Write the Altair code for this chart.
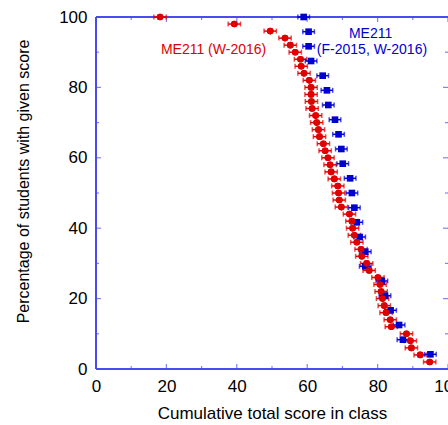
import altair as alt
import pandas as pd

# Cumulative score distributions for ME211
red_label = "ME211 (W-2016)"
red_score = [18.2, 39.3, 49.5, 53.7, 55.2, 56.6, 58.1, 58.3, 59.1, 60.6,
             61.1, 61.1, 61.2, 61.4, 62.4, 62.7, 63.2, 63.5, 64.6, 65.1,
             65.9, 66.5, 66.8, 67.7, 68.7, 68.9, 69.1, 69.7, 72.0, 72.7,
             72.9, 73.4, 74.1, 75.3, 75.5, 76.9, 77.6, 80.1, 80.7, 81.0,
             81.4, 81.9, 82.4, 83.6, 83.9, 88.2, 89.3, 89.6, 92.1, 94.8]
red_pct = [100, 98, 96, 94, 92, 90, 88, 86, 84, 82,
           80, 78, 76, 74, 72, 70, 68, 66, 64, 62,
           60, 58, 56, 54, 52, 50, 48, 46, 44, 42,
           40, 38, 36, 34, 32, 30, 28, 26, 24, 22,
           20, 18, 16, 14, 12, 10, 8, 6, 4, 2]
red_err = 1.75

blue_label_1 = "ME211"
blue_label_2 = "(F-2015, W-2016)"
blue_score = [59.0, 60.4, 60.4, 61.1, 64.4, 65.6, 66.0, 67.9, 68.9, 69.7,
              70.1, 72.2, 72.7, 73.4, 74.1, 74.9, 76.5, 76.5, 81.2, 82.1,
              83.7, 86.1, 87.2, 95.0]
blue_pct = [100, 95.83, 91.67, 87.5, 83.33, 79.17, 75, 70.83, 66.67, 62.5,
            58.33, 54.17, 50, 45.83, 41.67, 37.5, 33.33, 29.17, 25, 20.83,
            16.67, 12.5, 8.33, 4.17]
blue_err = 1.65

major_ticks = [0, 20, 40, 60, 80, 100]
minor_ticks = [10, 30, 50, 70, 90]

RED = "#e00000"
BLUE = "#0000d0"
FRAME = "#4b4bf0"
FONT = "Liberation Sans"
W, H = 352, 352

red = pd.DataFrame({"score": red_score, "pct": red_pct})
red["lo"] = red["score"] - red_err
red["hi"] = red["score"] + red_err
blue = pd.DataFrame({"score": blue_score, "pct": blue_pct})
blue["lo"] = blue["score"] - blue_err
blue["hi"] = blue["score"] + blue_err

xs = alt.Scale(domain=[0, 100], nice=False)
ys = alt.Scale(domain=[0, 100], nice=False)

x_axis = alt.Axis(values=major_ticks, domain=False, ticks=False, tickSize=0, grid=False,
                  labelFontSize=17, labelFont=FONT, labelColor="black", labelPadding=9,
                  labelFlush=False, labelOverlap=False,
                  title="Cumulative total score in class", titleFont=FONT,
                  titleFontSize=17, titleFontWeight="normal", titleColor="black",
                  titleY=44, titleBaseline="middle")
y_axis = alt.Axis(values=major_ticks, domain=False, ticks=False, tickSize=0, grid=False,
                  labelFontSize=17, labelFont=FONT, labelColor="black", labelPadding=9,
                  labelFlush=False, labelOverlap=False,
                  title="Percentage of students with given score", titleFont=FONT,
                  titleFontSize=16, titleFontWeight="normal", titleColor="black",
                  titleX=-73, titleY=164, titleBaseline="middle", titleAlign="center",
                  titleAngle=270)

base_r = alt.Chart(red)
base_b = alt.Chart(blue)

# axes carry labels and titles; points define scales
red_pts = base_r.mark_circle(size=44, color=RED, opacity=1).encode(
    x=alt.X("score:Q", scale=xs, axis=x_axis),
    y=alt.Y("pct:Q", scale=ys, axis=y_axis),
)
red_bar = base_r.mark_rule(color=RED, strokeWidth=1.5).encode(
    x="lo:Q", x2="hi:Q", y="pct:Q")
red_cap_lo = base_r.mark_tick(color=RED, orient="vertical", size=5, thickness=1.5).encode(
    x="lo:Q", y="pct:Q")
red_cap_hi = base_r.mark_tick(color=RED, orient="vertical", size=5, thickness=1.5).encode(
    x="hi:Q", y="pct:Q")

blue_pts = base_b.mark_square(size=44, color=BLUE, opacity=1).encode(
    x="score:Q", y="pct:Q")
blue_bar = base_b.mark_rule(color=BLUE, strokeWidth=1.5).encode(
    x="lo:Q", x2="hi:Q", y="pct:Q")
blue_cap_lo = base_b.mark_tick(color=BLUE, orient="vertical", size=5, thickness=1.5).encode(
    x="lo:Q", y="pct:Q")
blue_cap_hi = base_b.mark_tick(color=BLUE, orient="vertical", size=5, thickness=1.5).encode(
    x="hi:Q", y="pct:Q")

# inward-pointing ticks on all four sides of the frame
maj = pd.DataFrame({"v": major_ticks})
mnr = pd.DataFrame({"v": minor_ticks})


def side_ticks(df, length):
    bottom = alt.Chart(df).mark_tick(color=FRAME, orient="vertical", size=length, thickness=1.2).encode(
        x="v:Q", y=alt.value(H - length / 2))
    top = alt.Chart(df).mark_tick(color=FRAME, orient="vertical", size=length, thickness=1.2).encode(
        x="v:Q", y=alt.value(length / 2))
    left = alt.Chart(df).mark_tick(color=FRAME, orient="horizontal", size=length, thickness=1.2).encode(
        y="v:Q", x=alt.value(length / 2))
    right = alt.Chart(df).mark_tick(color=FRAME, orient="horizontal", size=length, thickness=1.2).encode(
        y="v:Q", x=alt.value(W - length / 2))
    return [bottom, top, left, right]


# frame lines (left, top, bottom); the right edge sits just past the page
frame_left = alt.Chart(maj).mark_rule(color=FRAME, strokeWidth=1.5).encode(
    x=alt.value(0), y=alt.value(0), y2=alt.value(H))
frame_top = alt.Chart(maj).mark_rule(color=FRAME, strokeWidth=1.5).encode(
    y=alt.value(0), x=alt.value(0), x2=alt.value(W))
frame_bottom = alt.Chart(maj).mark_rule(color=FRAME, strokeWidth=1.5).encode(
    y=alt.value(H), x=alt.value(0), x2=alt.value(W))

labels = pd.DataFrame({
    "x": [33.4, 78.0, 78.4],
    "y": [90.7, 95.3, 90.7],
    "t": [red_label, blue_label_1, blue_label_2],
    "c": [RED, BLUE, BLUE],
})
text = alt.Chart(labels).mark_text(fontSize=14, font=FONT, align="center", baseline="middle").encode(
    x="x:Q", y="y:Q", text="t:N", color=alt.Color("c:N", scale=None))

chart = alt.layer(
    red_pts, frame_left, frame_top, frame_bottom,
    *side_ticks(maj, 5), *side_ticks(mnr, 3),
    red_bar, red_cap_lo, red_cap_hi,
    blue_bar, blue_cap_lo, blue_cap_hi, blue_pts,
    red_pts, text,
).properties(
    width=W, height=H,
    background="white",
    autosize=alt.AutoSizeParams(type="none"),
    padding={"left": 96, "top": 17, "right": 0, "bottom": 56},
).configure_view(
    stroke=None
)

chart.save("out.html", embed_options={"renderer": "svg", "actions": False})
